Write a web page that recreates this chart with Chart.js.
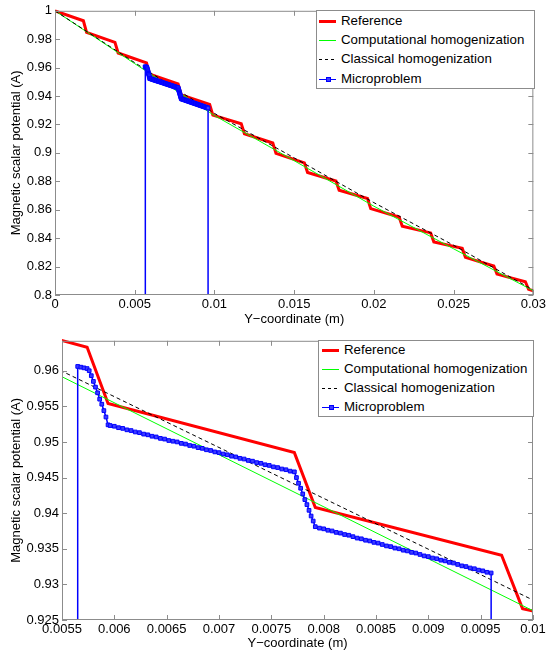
<!DOCTYPE html>
<html>
<head>
<meta charset="utf-8">
<script src="https://cdn.jsdelivr.net/npm/chart.js@4.4.1/dist/chart.umd.min.js"></script>
<style>
  html, body { margin: 0; padding: 0; background: #fff; }
  body { width: 548px; height: 653px; position: relative; overflow: hidden; font-family: "Liberation Sans", Arial, sans-serif; }
  .panel { position: absolute; left: 0; }
  .legend { position: absolute; background: #fff; border: 1px solid #8c8c8c; box-sizing: border-box; font-size: 13.3px; color: #000; }
  .legend .row { position: absolute; left: 0; right: 0; height: 16px; line-height: 16px; white-space: nowrap; }
  .legend .sample { position: absolute; top: 8px; }
  .legend .label { position: absolute; top: 0; }
  .legend .marker { position: absolute; width: 3px; height: 3px; border: 1px solid #00f; background: #3c3cff; top: -2px; }
</style>
</head>
<body>
<div class="panel" style="top:0"><canvas id="fullCanvas" width="548" height="327"></canvas></div>
<div class="panel" style="top:330px"><canvas id="zoomCanvas" width="548" height="323"></canvas></div>
<div class="legend" id="fullLegend"></div>
<div class="legend" id="zoomLegend"></div>
<script>
(function () {
  "use strict";

  const seriesNames = ["Reference", "Computational homogenization", "Classical homogenization", "Microproblem"];

  // reference: one steep drop per layer
  const referenceX = [0, 0.00178, 0.00198, 0.00376, 0.00396, 0.00574, 0.00594, 0.00772, 0.00792, 0.00970, 0.00990,
    0.01168, 0.01188, 0.01366, 0.01386, 0.01564, 0.01584, 0.01762, 0.01782, 0.01960, 0.01980,
    0.02158, 0.02178, 0.02356, 0.02376, 0.02554, 0.02574, 0.02752, 0.02772, 0.02950, 0.02970, 0.03];
  const referenceY = [1, 0.9930, 0.9848, 0.9778, 0.9703, 0.9633, 0.9554, 0.9485, 0.9408, 0.9341, 0.9266,
    0.9205, 0.9135, 0.9070, 0.8997, 0.8930, 0.8862, 0.8802, 0.8737, 0.8679, 0.8608,
    0.8549, 0.8484, 0.8437, 0.8374, 0.8328, 0.8265, 0.8204, 0.8147, 0.8093, 0.8040, 0.8030];

  const compHomX = [0, 0.005, 0.01, 0.015, 0.02, 0.025, 0.03];
  const compHomY = [1, 0.9628, 0.9263, 0.8945, 0.8625, 0.8325, 0.8030];

  const classHomX = [0, 0.005, 0.01, 0.015, 0.02, 0.025, 0.03];
  const classHomY = [1, 0.9635, 0.9278, 0.8965, 0.8650, 0.8350, 0.8035];

  const microX = [0.00565, 0.00565, 0.00568, 0.00571, 0.00574,
    0.00576, 0.00578, 0.00580, 0.00582, 0.00584, 0.00586, 0.00588, 0.00590, 0.00592, 0.00594,
    0.00596, 0.00600, 0.00604, 0.00608, 0.00612, 0.00616, 0.00620, 0.00624, 0.00628, 0.00632,
    0.00636, 0.00640, 0.00644, 0.00648, 0.00652, 0.00656, 0.00660, 0.00664, 0.00668, 0.00672,
    0.00676, 0.00680, 0.00684, 0.00688, 0.00692, 0.00696, 0.00700, 0.00704, 0.00708, 0.00712,
    0.00716, 0.00720, 0.00724, 0.00728, 0.00732, 0.00736, 0.00740, 0.00744, 0.00748, 0.00752,
    0.00756, 0.00760, 0.00764, 0.00768, 0.00772,
    0.00774, 0.00776, 0.00778, 0.00780, 0.00782, 0.00784, 0.00786, 0.00788, 0.00790, 0.00792,
    0.00796, 0.00800, 0.00804, 0.00808, 0.00812, 0.00816, 0.00820, 0.00824, 0.00828, 0.00832,
    0.00836, 0.00840, 0.00844, 0.00848, 0.00852, 0.00856, 0.00860, 0.00864, 0.00868, 0.00872,
    0.00876, 0.00880, 0.00884, 0.00888, 0.00892, 0.00896, 0.00900, 0.00904, 0.00908, 0.00912,
    0.00916, 0.00920, 0.00924, 0.00928, 0.00932, 0.00936, 0.00940, 0.00944, 0.00948, 0.00952,
    0.00956, 0.00960, 0.00960];
  const microY = [0, 0.9606, 0.9605, 0.9604, 0.9603,
    0.9600, 0.9593, 0.9585, 0.9577, 0.9569, 0.9560, 0.9553, 0.9544, 0.9535, 0.9524,
    0.9523, 0.9522, 0.9520, 0.9519, 0.9517, 0.9516, 0.9514, 0.9513, 0.9511, 0.9510,
    0.9508, 0.9507, 0.9505, 0.9504, 0.9502, 0.9501, 0.9500, 0.9498, 0.9497, 0.9495,
    0.9494, 0.9492, 0.9491, 0.9489, 0.9488, 0.9486, 0.9485, 0.9483, 0.9482, 0.9480,
    0.9479, 0.9477, 0.9476, 0.9474, 0.9473, 0.9471, 0.9470, 0.9468, 0.9467, 0.9465,
    0.9464, 0.9462, 0.9461, 0.9459, 0.9458,
    0.9450, 0.9442, 0.9435, 0.9427, 0.9419, 0.9412, 0.9404, 0.9396, 0.9389, 0.9381,
    0.9379, 0.9378, 0.9376, 0.9375, 0.9373, 0.9372, 0.9370, 0.9369, 0.9367, 0.9365,
    0.9364, 0.9362, 0.9361, 0.9359, 0.9358, 0.9356, 0.9354, 0.9353, 0.9351, 0.9350,
    0.9348, 0.9347, 0.9345, 0.9344, 0.9342, 0.9340, 0.9339, 0.9337, 0.9336, 0.9334,
    0.9333, 0.9331, 0.9330, 0.9328, 0.9326, 0.9325, 0.9323, 0.9322, 0.9320, 0.9319,
    0.9317, 0.9316, 0];

  const fullXTicks = [0, 0.005, 0.01, 0.015, 0.02, 0.025, 0.03];
  const fullXLabels = ["0", "0.005", "0.01", "0.015", "0.02", "0.025", "0.03"];
  const fullYTicks = [0.8, 0.82, 0.84, 0.86, 0.88, 0.9, 0.92, 0.94, 0.96, 0.98, 1];
  const fullYLabels = ["0.8", "0.82", "0.84", "0.86", "0.88", "0.9", "0.92", "0.94", "0.96", "0.98", "1"];

  const zoomXTicks = [0.0055, 0.006, 0.0065, 0.007, 0.0075, 0.008, 0.0085, 0.009, 0.0095, 0.01];
  const zoomXLabels = ["0.0055", "0.006", "0.0065", "0.007", "0.0075", "0.008", "0.0085", "0.009", "0.0095", "0.01"];
  const zoomYTicks = [0.925, 0.93, 0.935, 0.94, 0.945, 0.95, 0.955, 0.96];
  const zoomYLabels = ["0.925", "0.93", "0.935", "0.94", "0.945", "0.95", "0.955", "0.96"];

  const FONT = { family: "'Liberation Sans', Arial, sans-serif", size: 13 };
  const AXIS_COLOR = "#8c8c8c";
  const TICK_LEN = 5;
  const CLIP = { left: 0, top: 3, right: 0, bottom: 0 };

  function points(xs, ys) {
    return xs.map((x, i) => ({ x: x, y: ys[i] }));
  }

  function buildDatasets() {
    return [
      { label: seriesNames[0], data: points(referenceX, referenceY), borderColor: "#ff0000", borderWidth: 3, pointRadius: 0, order: 4, clip: CLIP },
      { label: seriesNames[1], data: points(compHomX, compHomY), borderColor: "#00ff00", borderWidth: 1, pointRadius: 0, order: 3, clip: CLIP },
      { label: seriesNames[2], data: points(classHomX, classHomY), borderColor: "#000000", borderWidth: 1, borderDash: [4, 3], pointRadius: 0, order: 2, clip: CLIP },
      {
        label: seriesNames[3], data: points(microX, microY), borderColor: "#0000ff", borderWidth: 1.5,
        pointStyle: "rect", pointRadius: 2.6, pointBorderWidth: 1, pointBorderColor: "#0000ff",
        pointBackgroundColor: "#3c3cff", order: 1, clip: CLIP
      }
    ];
  }

  // MATLAB-like box with inward ticks on all four sides
  const boxAxes = {
    id: "boxAxes",
    afterDatasetsDraw(chart) {
      const { ctx, chartArea: a, scales } = chart;
      ctx.save();
      ctx.strokeStyle = AXIS_COLOR;
      ctx.lineWidth = 1;
      ctx.beginPath();
      scales.x.ticks.forEach(t => {
        const px = Math.round(scales.x.getPixelForValue(t.value)) + 0.5;
        ctx.moveTo(px, a.bottom); ctx.lineTo(px, a.bottom - TICK_LEN);
        ctx.moveTo(px, a.top); ctx.lineTo(px, a.top + TICK_LEN);
      });
      scales.y.ticks.forEach(t => {
        const py = Math.round(scales.y.getPixelForValue(t.value)) + 0.5;
        ctx.moveTo(a.left, py); ctx.lineTo(a.left + TICK_LEN, py);
        ctx.moveTo(a.right, py); ctx.lineTo(a.right - TICK_LEN, py);
      });
      ctx.stroke();
      ctx.strokeRect(a.left + 0.5, a.top + 0.5, a.width - 1, a.height - 1);
      ctx.restore();
    }
  };

  function axis(cfg) {
    return {
      type: "linear",
      min: cfg.min,
      max: cfg.max,
      grid: { display: false, drawTicks: false },
      border: { display: false },
      afterBuildTicks: scale => { scale.ticks = cfg.ticks.map(v => ({ value: v })); },
      afterFit: scale => {
        if (cfg.height) scale.height = cfg.height;
        if (cfg.width) scale.width = cfg.width;
      },
      ticks: {
        font: FONT, color: "#000", padding: cfg.tickPad, autoSkip: false, maxRotation: 0,
        callback: (v, i) => cfg.labels[i]
      },
      title: { display: true, text: cfg.title, font: FONT, color: "#000", padding: cfg.titlePad }
    };
  }

  function makeChart(canvasId, c) {
    return new Chart(document.getElementById(canvasId), {
      type: "line",
      data: { datasets: buildDatasets() },
      plugins: [boxAxes],
      options: {
        responsive: false,
        animation: false,
        devicePixelRatio: 1,
        events: [],
        layout: { padding: { top: 10, right: c.padRight, left: 0, bottom: 0 } },
        plugins: { legend: { display: false }, tooltip: { enabled: false } },
        scales: {
          x: axis({ min: c.xMin, max: c.xMax, ticks: c.xTicks, labels: c.xLabels, height: c.xHeight, tickPad: 2,
            title: "Y\u2212coordinate (m)", titlePad: { top: 0, bottom: c.xTitleBottom } }),
          y: axis({ min: c.yMin, max: c.yMax, ticks: c.yTicks, labels: c.yLabels, width: c.yWidth, tickPad: 3,
            title: "Magnetic scalar potential (A)", titlePad: { top: 9, bottom: 0 } })
        }
      }
    });
  }

  function sampleHtml(i, b) {
    const base = `left:${b.sampleLeft}px;width:${b.sampleWidth}px;`;
    if (i === 0) return `<span class="sample" style="${base}height:3px;margin-top:-1px;background:#ff0000"></span>`;
    if (i === 1) return `<span class="sample" style="${base}height:1px;background:#00ff00"></span>`;
    if (i === 2) return `<span class="sample" style="${base}height:1px;background:repeating-linear-gradient(90deg,#000 0 3px,transparent 3px 6px)"></span>`;
    const mid = Math.round(b.sampleWidth / 2) - 2;
    return `<span class="sample" style="${base}height:1px;background:#0000ff"><span class="marker" style="left:${mid}px"></span></span>`;
  }

  function renderLegend(id, b) {
    const el = document.getElementById(id);
    el.style.left = b.left + "px";
    el.style.top = b.top + "px";
    el.style.width = b.width + "px";
    el.style.height = b.height + "px";
    el.innerHTML = seriesNames.map((name, i) => `
      <div class="row" style="top:${Math.round(b.firstRow + i * b.rowGap - 8)}px">
        ${sampleHtml(i, b)}
        <span class="label" style="left:${b.textLeft}px">${name}</span>
      </div>`).join("");
  }

  makeChart("fullCanvas", {
    xMin: 0, xMax: 0.03, xTicks: fullXTicks, xLabels: fullXLabels,
    yMin: 0.8, yMax: 1, yTicks: fullYTicks, yLabels: fullYLabels,
    padRight: 14, yWidth: 55, xHeight: 32, xTitleBottom: 0
  });

  makeChart("zoomCanvas", {
    xMin: 0.0055, xMax: 0.01, xTicks: zoomXTicks, xLabels: zoomXLabels,
    yMin: 0.925, yMax: 0.9642, yTicks: zoomYTicks, yLabels: zoomYLabels,
    padRight: 15, yWidth: 62, xHeight: 33, xTitleBottom: 2
  });

  renderLegend("fullLegend", { left: 316, top: 10, width: 219, height: 79, firstRow: 9.7, rowGap: 19.3, sampleLeft: 2, sampleWidth: 17, textLeft: 24 });
  renderLegend("zoomLegend", { left: 318, top: 340, width: 216, height: 77, firstRow: 9, rowGap: 18.9, sampleLeft: 3, sampleWidth: 17, textLeft: 25 });
})();
</script>
</body>
</html>
